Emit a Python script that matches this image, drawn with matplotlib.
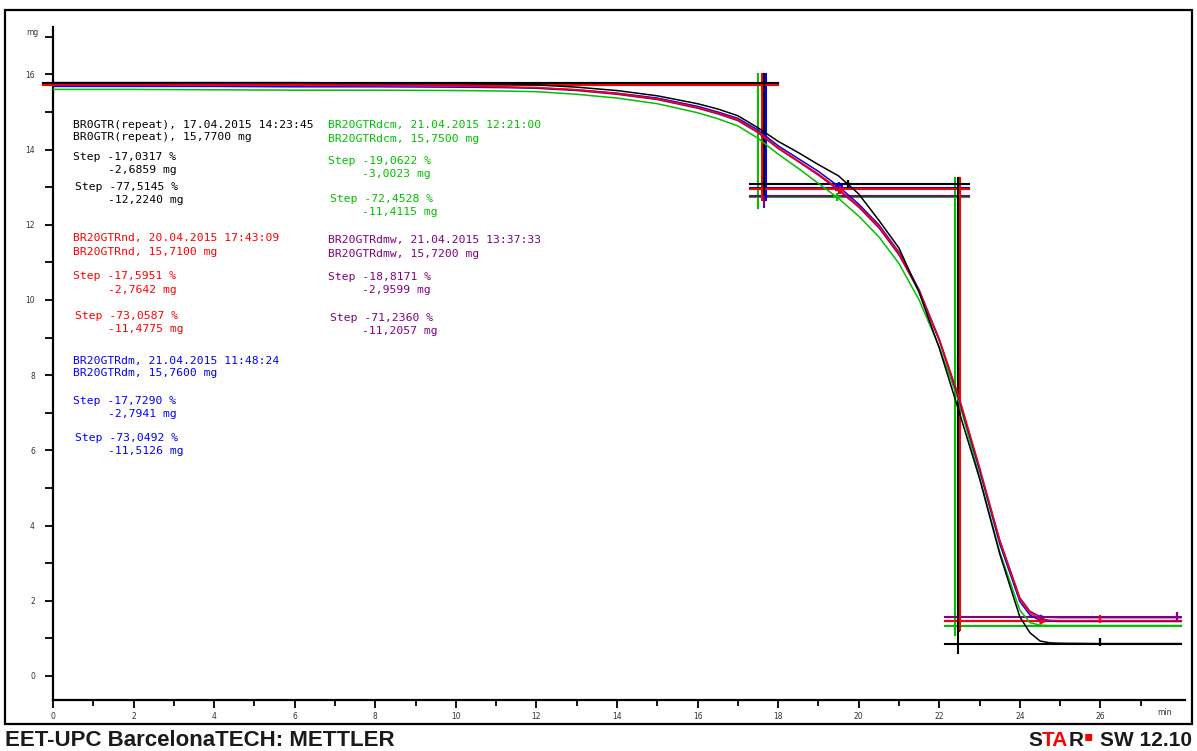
import matplotlib
matplotlib.use("Agg")
import matplotlib.pyplot as plt
from matplotlib.patches import Rectangle
from matplotlib.ticker import FixedLocator
import matplotlib.transforms as mtransforms

# ---- TGA curves (mass in mg vs time in min) ----
time_min = [0, 2, 4, 6, 8, 10, 11, 12, 13, 14, 15, 16, 16.5, 17, 17.5, 18, 18.5,
            19, 19.5, 20, 20.5, 21, 21.5, 22, 22.5, 23, 23.5, 24, 24.25, 24.5,
            24.75, 25, 26, 27, 28]

mass_br0gtr = [15.78, 15.78, 15.78, 15.78, 15.77, 15.76, 15.74, 15.72, 15.66, 15.57,
               15.43, 15.22, 15.08, 14.90, 14.58, 14.22, 13.92, 13.60, 13.30, 12.82,
               12.12, 11.38, 10.20, 8.72, 7.00, 5.25, 3.25, 1.57, 1.15, 0.93, 0.88,
               0.87, 0.86, 0.86, 0.86]
mass_rnd = [15.72, 15.72, 15.72, 15.71, 15.70, 15.69, 15.67, 15.65, 15.59, 15.49,
            15.35, 15.12, 14.97, 14.80, 14.47, 14.05, 13.70, 13.35, 12.95, 12.50,
            11.97, 11.25, 10.25, 8.95, 7.38, 5.55, 3.60, 2.05, 1.68, 1.52, 1.48,
            1.47, 1.47, 1.47, 1.47]
mass_rdm = [15.68, 15.68, 15.68, 15.67, 15.67, 15.66, 15.65, 15.64, 15.59, 15.50,
            15.37, 15.15, 15.00, 14.83, 14.52, 14.10, 13.76, 13.42, 13.02, 12.55,
            12.00, 11.27, 10.27, 8.95, 7.35, 5.48, 3.52, 1.98, 1.62, 1.48, 1.46,
            1.45, 1.45, 1.45, 1.45]
mass_rdcm = [15.60, 15.60, 15.59, 15.58, 15.58, 15.57, 15.56, 15.54, 15.47, 15.37,
             15.22, 14.98, 14.82, 14.63, 14.30, 13.88, 13.50, 13.10, 12.70, 12.23,
             11.68, 10.97, 10.00, 8.75, 7.25, 5.30, 3.30, 1.75, 1.42, 1.35, 1.34,
             1.34, 1.34, 1.34, 1.34]
mass_rdmw = [15.73, 15.73, 15.76, 15.76, 15.74, 15.70, 15.67, 15.63, 15.57, 15.47,
             15.33, 15.10, 14.95, 14.77, 14.45, 14.03, 13.68, 13.32, 12.92, 12.47,
             11.92, 11.20, 10.22, 8.92, 7.33, 5.50, 3.62, 2.08, 1.72, 1.58, 1.56,
             1.55, 1.55, 1.55, 1.55]

# ---- sample info and step evaluation results ----
sample_names = ["BR0GTR(repeat)", "BR20GTRnd", "BR20GTRdm", "BR20GTRdcm", "BR20GTRdmw"]
sample_dates = ["17.04.2015 14:23:45", "20.04.2015 17:43:09", "21.04.2015 11:48:24",
                "21.04.2015 12:21:00", "21.04.2015 13:37:33"]
initial_mass = [15.7700, 15.7100, 15.7600, 15.7500, 15.7200]
step1_pct = ["-17,0317", "-17,5951", "-17,7290", "-19,0622", "-18,8171"]
step1_mg = [-2.6859, -2.7642, -2.7941, -3.0023, -2.9599]
step2_pct = ["-77,5145", "-73,0587", "-73,0492", "-72,4528", "-71,2360"]
step2_mg = [-12.2240, -11.4775, -11.5126, -11.4115, -11.2057]
step1_time = [17.65, 17.60, 17.70, 17.50, 17.66]
step2_time = [22.47, 22.52, 22.50, 22.40, 22.50]
inflection_time = [19.73, 19.53, 19.50, 19.45, 19.50]

curves = [mass_br0gtr, mass_rnd, mass_rdm, mass_rdcm, mass_rdmw]
colors = ["#000000", "#ff0000", "#0000ff", "#00c000", "#800080"]

# text block anchor positions (data coords): x of name, x of indented value, y rows
block_x = [0.5, 0.5, 0.5, 6.82, 6.82]
block_x_ind = [1.36, 1.36, 1.36, 7.67, 7.67]
block_rows = [
    [14.65, 14.34, 13.80, 13.46, 13.01, 12.66],
    [11.65, 11.28, 10.64, 10.27, 9.57, 9.23],
    [8.38, 8.06, 7.31, 6.97, 6.33, 5.98],
    [14.65, 14.28, 13.70, 13.35, 12.69, 12.34],
    [11.60, 11.22, 10.61, 10.27, 9.52, 9.18],
]


def fmt_mg(v):
    return ("%.4f" % v).replace(".", ",")


W, H = 1197, 751
fig = plt.figure(figsize=(W / 100, H / 100), dpi=100)
fig.patch.set_facecolor("white")

# outer frame
fig.patches.append(Rectangle((5 / W, 1 - 724 / H), (1192 - 5) / W, (724 - 10) / H,
                             transform=fig.transFigure, fill=False,
                             edgecolor="black", linewidth=1.6))

ax = fig.add_axes([53 / W, 1 - 700 / H, (1185 - 53) / W, (700 - 27) / H])
ax.set_xlim(0, 28.1)
ax.set_ylim(-0.64, 17.26)
for s in ("top", "right"):
    ax.spines[s].set_visible(False)
for s in ("left", "bottom"):
    ax.spines[s].set_linewidth(1.6)
    ax.spines[s].set_color("black")

ax.xaxis.set_major_locator(FixedLocator(list(range(0, 27, 2))))
ax.xaxis.set_minor_locator(FixedLocator(list(range(1, 28, 2))))
ax.yaxis.set_major_locator(FixedLocator(list(range(0, 17, 2))))
ax.yaxis.set_minor_locator(FixedLocator(list(range(1, 18, 2))))
ax.tick_params(axis="both", which="major", direction="out", length=6, width=1.3,
               labelsize=5.5, labelcolor="#333333")
ax.tick_params(axis="x", which="major", pad=2.5)
ax.tick_params(axis="y", which="major", pad=7)
ax.tick_params(axis="both", which="minor", direction="out", length=4, width=1.3)
ax.tick_params(axis="y", which="minor", length=6)

tx = mtransforms.blended_transform_factory(ax.transData, ax.transAxes)
ty = mtransforms.blended_transform_factory(ax.transAxes, ax.transData)
ax.text(27.6, -0.019, "min", transform=tx, ha="center", va="center",
        fontsize=5.5, color="#333333")
ax.text(-0.018, 17.12, "mg", transform=ty, ha="center", va="center",
        fontsize=5.5, color="#333333")

order = [3, 4, 2, 1, 0]
for i in order:
    c = colors[i]
    m0 = initial_mass[i]
    mid = m0 + step1_mg[i]
    fin = mid + step2_mg[i]
    # horizontal reference lines of the step evaluation
    ax.plot([-0.25, 18.0], [m0, m0], color=c, lw=1.5, clip_on=False, zorder=3)
    ax.plot([17.3, 22.75], [mid, mid], color=c, lw=1.5, zorder=3)
    ax.plot([22.15, 28.0], [fin, fin], color=c, lw=1.5, zorder=3)
    # vertical step lines
    ax.plot([step1_time[i]] * 2, [16.0, mid - 0.3], color=c, lw=1.5, zorder=3)
    ax.plot([step2_time[i]] * 2, [13.25, fin - 0.25], color=c, lw=1.5, zorder=3)

for i in order:
    ax.plot(time_min, curves[i], color=colors[i], lw=1.1, zorder=4)
    # inflection marker on the curve
    yi = None
    for k in range(len(time_min) - 1):
        if time_min[k] <= inflection_time[i] <= time_min[k + 1]:
            f = (inflection_time[i] - time_min[k]) / (time_min[k + 1] - time_min[k])
            yi = curves[i][k] + f * (curves[i][k + 1] - curves[i][k])
    ax.plot([inflection_time[i]], [yi], marker="+", ms=6, mew=1.6,
            color=colors[i], zorder=5)

# end markers on the final level lines
for i in (1, 4):
    fin = initial_mass[i] + step1_mg[i] + step2_mg[i]
    ax.plot([24.55], [fin], marker=">", ms=3.5, color=colors[i], zorder=5)
for i in (0, 1):
    fin = initial_mass[i] + step1_mg[i] + step2_mg[i]
    ax.plot([26.0], [fin + 0.05], marker="|", ms=6, mew=1.6, color=colors[i], zorder=5)
fin4 = initial_mass[4] + step1_mg[4] + step2_mg[4]
ax.plot([27.9], [fin4 + 0.05], marker="|", ms=6, mew=1.6, color=colors[4], zorder=5)

# annotation blocks
mono = dict(family="DejaVu Sans Mono", fontsize=8.2, va="center", ha="left")
for i in range(5):
    c = colors[i]
    r = block_rows[i]
    x0, x1 = block_x[i], block_x_ind[i]
    ax.text(x0, r[0], "%s, %s" % (sample_names[i], sample_dates[i]), color=c, **mono)
    ax.text(x0, r[1], "%s, %s mg" % (sample_names[i], fmt_mg(initial_mass[i])),
            color=c, **mono)
    ax.text(x0, r[2], "Step %s %%" % step1_pct[i], color=c, **mono)
    ax.text(x1, r[3], "%s mg" % fmt_mg(step1_mg[i]), color=c, **mono)
    ax.text(x0 + 0.05, r[4], "Step %s %%" % step2_pct[i], color=c, **mono)
    ax.text(x1, r[5], "%s mg" % fmt_mg(step2_mg[i]), color=c, **mono)

# footer
dark = "#1a1a1a"
fig.text(5 / W, 1 - 740 / H, "EET-UPC BarcelonaTECH: METTLER", ha="left", va="center",
         fontsize=16, fontweight="bold", family="Liberation Sans", color=dark)
renderer = fig.canvas.get_renderer()
rfont = dict(fontsize=15, fontweight="bold", family="Liberation Sans", va="center")
foot = fig.text(1192 / W, 1 - 740 / H, "SW 12.10", ha="right", color=dark, **rfont)
x_end = foot.get_window_extent(renderer).x0 / W - 7 / W
dot = fig.text(x_end, 1 - 736 / H, "\u25AA", ha="right", color="#ff0000",
               fontsize=10, family="DejaVu Sans", va="center")
x_end = dot.get_window_extent(renderer).x0 / W
for txt, col in [("R", dark), ("TA", "#ff0000"), ("S", dark)]:
    t = fig.text(x_end, 1 - 740 / H, txt, ha="right", color=col, **rfont)
    x_end = t.get_window_extent(renderer).x0 / W

fig.savefig("out.png", dpi=100, facecolor="white")
